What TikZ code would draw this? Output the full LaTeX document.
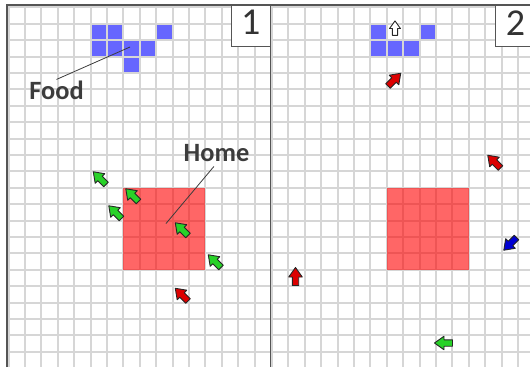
\documentclass[tikz,border=0pt]{standalone}
\usepackage{fontspec}
\setmainfont{Carlito}
\usetikzlibrary{positioning,calc}
\definecolor{foodblue}{RGB}{102,102,255}
\definecolor{antgreen}{RGB}{40,210,40}
\definecolor{antred}{RGB}{220,0,0}
\definecolor{antblue}{RGB}{0,0,210}
\definecolor{framegray}{RGB}{85,85,85}
\definecolor{labelgray}{RGB}{60,60,60}
% ant arrow: [scale]{x}{y}{heading}{colour}
\newcommand{\ant}[5][1]{%
  \draw[antbody, fill=#5, shift={(#2,#3)}, rotate=#4, scale=#1]
    (-8.5,-3.2) -- (0,-3.2) -- (0,-6.8) -- (9.5,0) -- (0,6.8) -- (0,3.2) -- (-8.5,3.2) -- cycle;}

\begin{document}
\begin{tikzpicture}[x=1pt, y=-1pt,
  gridline/.style={black!16, line width=2pt},
  food/.style={fill=foodblue},
  home/.style={fill=red, fill opacity=0.6},
  antbody/.style={draw=black!85, line width=0.9pt, line join=round},
  frame/.style={draw=framegray, line width=1.6pt},
  numbox/.style={draw=framegray, line width=1pt, fill=white, text=black!80,
    minimum height=40.5pt, text depth=6pt, inner sep=0pt,
    font=\fontsize{38}{38}\selectfont},
  label/.style={text=labelgray, inner sep=1pt, font=\fontsize{26.4}{26.4}\selectfont\bfseries},
  pointer/.style={draw=labelgray, line width=0.8pt}]
\useasboundingbox (0,0) rectangle (530,367);
\clip (0,0) rectangle (530,367);

% grid
\foreach \k in {0,...,21}
  \draw[gridline] (7,{7.3+16.4*\k}) -- (530,{7.3+16.4*\k});
\foreach \k in {0,...,15} {
  \draw[gridline] ({8.6+16.4*\k},5) -- ({8.6+16.4*\k},367);
  \draw[gridline] ({272+16.4*\k},5) -- ({272+16.4*\k},367);
}

% food
\foreach \c/\r in {5/1,6/1,9/1,5/2,6/2,7/2,8/2,7/3}
  \fill[food] ({8.6+16.4*\c+1},{7.3+16.4*\r+1}) rectangle ++(14.4,14.4);
\foreach \c/\r in {6/1,9/1,6/2,7/2,8/2}
  \fill[food] ({272+16.4*\c+1},{7.3+16.4*\r+1}) rectangle ++(14.4,14.4);

% home
\fill[home] (123.4,187.7) rectangle ++(82,82);
\fill[home] (386.8,187.7) rectangle ++(82,82);

% frames and panel numbers
\draw[frame] (7,367) -- (7,5) -- (530,5);
\draw[frame] (270.5,5) -- (270.5,367);
\node[numbox, minimum width=38.5pt, anchor=north east] (one) at (270.5,5) {1};
\node[numbox, minimum width=40pt, anchor=north west] (two) at (495,5) {2};

% labels
\node[label] (food) at (56.5,90) {Food};
\node[label] (home) at (216.5,153.5) {Home};
\coordinate (foodpt) at (130,47);
\coordinate (homept) at (166,223.5);
\draw[pointer] (food.north) -- (foodpt);
\draw[pointer, shorten <=4pt] (home.south) -- (homept);

% ants, panel 1
\ant{100}{178.5}{135}{antgreen}
\ant{132.5}{195.5}{135}{antgreen}
\ant{115.5}{212.5}{135}{antgreen}
\ant{182}{229.5}{135}{antgreen}
\ant{215}{261.5}{135}{antgreen}
\ant{182}{295}{135}{antred}

% ants, panel 2
\ant[0.8]{395}{28.5}{90}{white}
\ant{394}{80}{45}{antred}
\ant{494.5}{162}{135}{antred}
\ant{510.5}{243.5}{225}{antblue}
\ant{295.5}{277}{90}{antred}
\ant{444}{343}{180}{antgreen}
\end{tikzpicture}
\end{document}
